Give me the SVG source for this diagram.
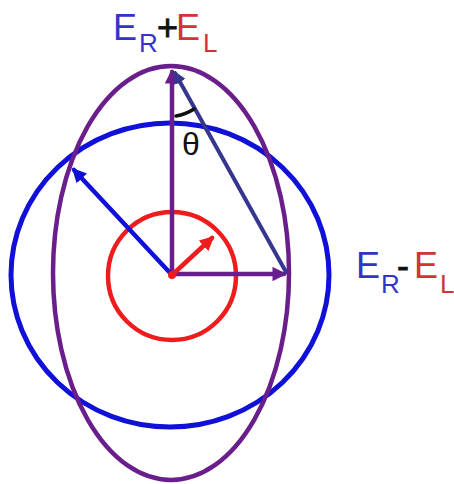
<svg xmlns="http://www.w3.org/2000/svg" width="454" height="484" viewBox="0 0 454 484">
<style>
.lbl{font-family:"Liberation Sans",Arial,sans-serif}
.big{font-size:36px}
.sub{font-size:26px}
.b{fill:#3434c4}
.r{fill:#d23434}
.k{fill:#111}
.c{fill:none}
</style>
<defs>
<marker id="hP" viewBox="0 0 10 10" refX="8" refY="5" markerWidth="3.2" markerHeight="3.2" orient="auto" markerUnits="strokeWidth"><path d="M0,0 L10,5 L0,10 z" fill="#6a1e8c"/></marker>
<marker id="hB" viewBox="0 0 10 10" refX="8" refY="5" markerWidth="3.2" markerHeight="3.2" orient="auto" markerUnits="strokeWidth"><path d="M0,0 L10,5 L0,10 z" fill="#1010d8"/></marker>
<marker id="hN" viewBox="0 0 10 10" refX="8" refY="5" markerWidth="3.2" markerHeight="3.2" orient="auto" markerUnits="strokeWidth"><path d="M0,0 L10,5 L0,10 z" fill="#363690"/></marker>
<marker id="hR" viewBox="0 0 10 10" refX="8" refY="5" markerWidth="3.2" markerHeight="3.2" orient="auto" markerUnits="strokeWidth"><path d="M0,0 L10,5 L0,10 z" fill="#ee1c1c"/></marker>
</defs>
<rect width="454" height="484" fill="#fff"/>
<g id="blue-circle"><ellipse cx="170" cy="275" rx="159" ry="152" class="c" stroke="#1010d8" stroke-width="5"/></g>
<g id="purple-ellipse"><ellipse cx="171" cy="273" rx="118" ry="207" class="c" stroke="#6a1e8c" stroke-width="4.5"/></g>
<g id="red-circle"><circle cx="172" cy="276" r="64" class="c" stroke="#ee1c1c" stroke-width="4.5"/></g>
<g id="connectors" stroke-linecap="round">
<line x1="172" y1="275" x2="172" y2="72" stroke="#6a1e8c" stroke-width="4.5" marker-end="url(#hP)"/>
<line x1="172" y1="274" x2="284" y2="274" stroke="#6a1e8c" stroke-width="4.5" marker-end="url(#hP)"/>
<line x1="286" y1="272" x2="175" y2="73" stroke="#363690" stroke-width="4" marker-end="url(#hN)"/>
<line x1="172" y1="275" x2="74" y2="170" stroke="#1010d8" stroke-width="4.5" marker-end="url(#hB)"/>
<line x1="172" y1="275" x2="212" y2="238" stroke="#ee1c1c" stroke-width="4.5" marker-end="url(#hR)"/>
<circle cx="172" cy="275" r="4" fill="#ee1c1c"/>
<path d="M176,116 A47,47 0 0 0 194,109" fill="none" stroke="#111" stroke-width="3.5"/>
</g>
<g id="theta"><text class="lbl k" x="182" y="155" font-size="32">θ</text></g>
<g id="label-top" class="lbl">
<text class="big b" x="113" y="40">E</text>
<text class="sub b" x="139" y="52">R</text>
<text class="big k" x="157" y="40" stroke="#111" stroke-width="0.8">+</text>
<text class="big r" x="176" y="40">E</text>
<text class="sub r" x="203" y="52">L</text>
</g>
<g id="label-right" class="lbl">
<text class="big b" x="356" y="278">E</text>
<text class="sub b" x="381" y="293">R</text>
<text class="big k" x="397" y="278" stroke="#111" stroke-width="0.8">-</text>
<text class="big r" x="414" y="278">E</text>
<text class="sub r" x="440" y="293" font-size="24">L</text>
</g>
</svg>
